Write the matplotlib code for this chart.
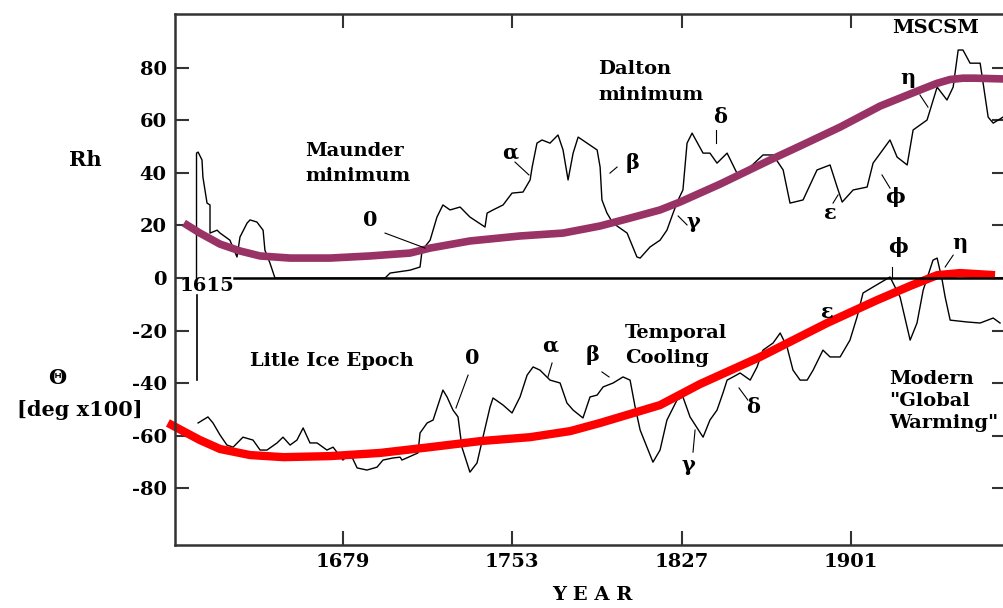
import numpy as np
import matplotlib.pyplot as plt

plt.rcParams['font.family'] = ['DejaVu Serif']
plt.rcParams['font.weight'] = 'bold'
plt.rcParams['axes.unicode_minus'] = False

# Rh (sunspot index) record
rh_years = [1615, 1615, 1615.7, 1617.4, 1617.8, 1619.6, 1620.9, 1620.9, 1624, 1625.3, 1629.6, 1632.7,
            1634, 1637.1, 1638.4, 1641.4, 1644.1, 1644.9, 1647.1, 1649.3, 1697.4, 1699.6, 1708.3,
            1712.7, 1713.6, 1717.1, 1720.1, 1722.7, 1725.8, 1730.2, 1734.5, 1741.1, 1742, 1744.6,
            1749, 1752.9, 1757.7, 1760.8, 1761.7, 1763.8, 1766, 1769.5, 1773, 1775.2, 1777.4,
            1779.6, 1781.8, 1785.7, 1790.1, 1791.4, 1792.2, 1794.4, 1797, 1803.2, 1807.5, 1808.9,
            1813.2, 1817.6, 1820.6, 1823.3, 1825.5, 1827.6, 1829.4, 1831.6, 1836.4, 1839.4, 1842.5,
            1846.9, 1851.2, 1855.6, 1862.6, 1867, 1871.4, 1874.4, 1880.1, 1886.2, 1891.9, 1895,
            1897.2, 1902, 1908.1, 1910.7, 1918.1, 1921.2, 1925.6, 1928.2, 1934.3, 1938.7, 1943,
            1945.7, 1947.9, 1950, 1953.1, 1957.5, 1958.8, 1961, 1963.2, 1967.5]
rh = [0, 47.5, 47.9, 44.9, 38.4, 28.5, 27.8, 17.1, 18.2, 17.1, 14.4, 8.0,
      15.6, 20.9, 22.1, 21.3, 18.2, 10.6, 5.7, 0, 0, 1.9, 3.0,
      4.2, 10.6, 14.4, 23.2, 27.8, 25.9, 27.0, 23.2, 19.4, 24.7, 25.9,
      27.8, 32.3, 32.7, 37.3, 42.2, 51.3, 52.5, 51.3, 54.4, 48.7, 37.3,
      47.5, 53.6, 51.3, 48.7, 42.2, 29.7, 24.7, 20.9, 17.1, 8.0, 7.6,
      11.8, 14.4, 18.2, 24.7, 29.7, 33.5, 51.3, 55.1, 47.5, 47.5, 43.7,
      47.5, 39.9, 41.1, 46.8, 46.8, 41.1, 28.5, 29.7, 41.1, 43.0, 34.6,
      28.9, 33.5, 34.6, 43.7, 52.5, 46.0, 43.0, 56.3, 60.1, 72.6, 67.7,
      72.6, 86.7, 86.7, 81.7, 81.7, 74.1, 61.2, 58.9, 61.2]

# temperature anomaly record [deg x100]
th_years = [1615.7, 1620, 1622.2, 1625.3, 1628.3, 1631, 1635.3, 1639.7, 1642.8, 1645.8, 1650.2,
            1652.8, 1655.9, 1658.9, 1661.6, 1664.6, 1667.7, 1672.0, 1674.7, 1679.0, 1682.1, 1685.2,
            1689.5, 1693.9, 1696.5, 1700.9, 1704, 1704.8, 1711.8, 1712.7, 1715.8, 1718.4, 1722.7,
            1724.5, 1727.1, 1729.3, 1731.0, 1734.5, 1737.6, 1740.2, 1743.3, 1744.6, 1749, 1752.9,
            1756.4, 1759.5, 1762.1, 1765.1, 1769.5, 1773.9, 1776.9, 1779.6, 1783.9, 1787.0, 1790.1,
            1792.7, 1797.1, 1801.4, 1804.5, 1806.7, 1808.9, 1814.5, 1817.6, 1820.6, 1825, 1827.6,
            1830.7, 1836.4, 1839.4, 1842.5, 1845.1, 1846.9, 1849.5, 1852.6, 1857, 1860, 1862.6,
            1867, 1870.1, 1873.1, 1875.7, 1878.8, 1881.9, 1884.5, 1888.8, 1891.9, 1896.3, 1900.6,
            1903.7, 1906.3, 1910.7, 1918.1, 1922.5, 1926.9, 1929.9, 1932.6, 1936.9, 1938.7, 1940.9,
            1942.2, 1944.4, 1951.8, 1957.5, 1963.2, 1966.2]
theta = [-55.1, -52.8, -55.1, -59.7, -63.5, -64.3, -60.5, -61.6, -65.4, -65.4, -62.7,
         -60.5, -63.5, -61.6, -57.0, -62.7, -62.7, -65.4, -64.3, -69.2, -66.5, -72.2,
         -73.0, -71.9, -69.2, -68.4, -68.1, -69.2, -66.5, -58.9, -55.1, -54.0, -42.6,
         -45.2, -50.2, -52.8, -64.3, -73.8, -70.3, -60.5, -49.0, -45.6, -48.3, -51.3,
         -45.2, -36.9, -33.8, -35.0, -38.8, -39.9, -47.5, -50.2, -53.2, -45.2, -44.5,
         -41.4, -39.9, -37.6, -38.8, -49.0, -57.8, -70.0, -65.4, -54.0, -46.4, -45.2,
         -52.8, -60.5, -54.0, -50.2, -43.7, -38.8, -37.6, -36.1, -38.8, -33.8, -27.4,
         -24.7, -20.9, -26.2, -35.0, -38.8, -38.8, -35.0, -27.4, -30.0, -30.0, -23.6,
         -14.8, -5.7, -3.4, 0.4, -7.2, -23.6, -17.1, -4.6, 6.8, 7.6, -0.8,
         -7.2, -16.0, -16.7, -17.1, -15.2, -17.1]

# smoothed trends
rh_trend_years = [1609.5, 1616.5, 1625.3, 1634, 1642.8, 1655.9, 1673.4, 1690.8, 1708.3, 1717.1, 1734.5,
                  1756.4, 1775.2, 1791.4, 1804.5, 1817.6, 1826.3, 1843.8, 1865.7, 1878.8, 1896.3,
                  1913.8, 1931.2, 1938.5, 1944.4, 1950, 1955.3, 1968]
rh_trend = [20.9, 17.1, 12.9, 10.3, 8.4, 7.6, 7.6, 8.4, 9.5, 11.4, 14.1,
            16.0, 17.1, 19.8, 22.8, 25.9, 28.9, 35.7, 44.9, 50.2, 57.4,
            65.4, 71.5, 74.0, 75.5, 76.0, 76.0, 75.7]
th_trend_years = [1602.5, 1610, 1616.5, 1625.3, 1638.4, 1653, 1673.4, 1695.2, 1717.1, 1739, 1760.8,
                  1778.3, 1791.4, 1804.5, 1817.6, 1835.1, 1861.3, 1890.6, 1912.4, 1926.9, 1938.7,
                  1948.7, 1964]
th_trend = [-55.1, -58.6, -61.6, -65.0, -67.3, -68.1, -67.7, -66.5, -64.3, -62.0, -60.5,
            -58.2, -55.1, -51.7, -48.3, -40.3, -30.0, -17.1, -8.4, -3.0, 1.1,
            1.9, 1.1]

year_ticks = [1679, 1753, 1827, 1901]
y_ticks = [80, 60, 40, 20, 0, -20, -40, -60, -80]

# label, x, y, leader start, leader end
greek = [
    ('0', 1690.8, 22.1, (1697.4, 17.1), (1714.9, 11.4)),
    ('α', 1752.0, 47.9, (1754.2, 44.1), (1760.3, 39.2)),
    ('β', 1805.4, 43.7, (1795.7, 39.9), (1798.8, 42.2)),
    ('γ', 1832.0, 21.5, (1825.5, 23.6), (1829.4, 20.2)),
    ('δ', 1843.8, 61.2, (1842.1, 56.3), (1842.1, 51.3)),
    ('ε', 1891.9, 24.7, (1893.2, 28.5), (1895.4, 31.6)),
    ('ϕ', 1920.3, 30.8, (1914.6, 39.2), (1918.1, 34.2)),
    ('η', 1926.0, 76.0, (1931.2, 69.6), (1934.7, 65.0)),
    ('ϕ', 1921.6, 11.8, (1919.0, 4.2), (1919.0, 0.4)),
    ('η', 1948.7, 13.3, (1945.7, 8.7), (1942.2, 4.2)),
    ('ε', 1890.6, -12.9, None, None),
    ('0', 1735.4, -30.4, (1733.7, -36.9), (1728.4, -49.4)),
    ('α', 1769.5, -25.5, (1770.4, -32.3), (1768.6, -37.6)),
    ('β', 1787.9, -29.3, (1792.2, -35.7), (1795.3, -37.6)),
    ('γ', 1829.8, -71.1, (1832.9, -57.8), (1832.0, -66.2)),
    ('δ', 1858.2, -49.0, (1852.1, -41.8), (1856.0, -46.4)),
]

fig = plt.figure(figsize=(10.04, 6.08), dpi=100)
ax = fig.add_axes([175/1004, 63/608, 831/1004, 531/608])

ax.plot(rh_years, rh, color='black', lw=1.0)
ax.plot(th_years, theta, color='black', lw=1.0)
ax.plot(rh_trend_years, rh_trend, color='#993366', lw=5.5, solid_capstyle='butt', solid_joinstyle='round')
ax.plot(th_trend_years, th_trend, color='#ff0000', lw=6, solid_capstyle='butt', solid_joinstyle='round',
        clip_on=False)

ax.axhline(0, xmin=(234-175)/831, color='black', lw=1.8)
ax.plot([1615, 1615], [-6.5, -38.8], color='black', lw=1.2)
ax.text(1607.5, -3.2, '1615', fontsize=14, fontweight='bold', ha='left', va='center')

ax.set_xlim(1605.6, 1968.8)
ax.set_ylim(-101.5, 100.4)
ax.set_xticks(year_ticks)
ax.set_yticks(y_ticks)
ax.tick_params(direction='in', length=10, width=1.5, top=True, right=True,
               labelsize=14, pad=6, color='#333333')
for lab in ax.get_xticklabels() + ax.get_yticklabels():
    lab.set_fontweight('bold')
for s in ax.spines.values():
    s.set_linewidth(1.8)
    s.set_color('#333333')

for lab, x, y, p0, p1 in greek:
    ax.text(x, y, lab, fontsize=15, fontweight='bold', ha='center', va='center')
    if p0 is not None:
        ax.plot([p0[0], p1[0]], [p0[1], p1[1]], color='black', lw=0.8)

tk = dict(fontsize=14, fontweight='bold', ha='left', va='center', linespacing=1.55)
ax.text(1662.4, 43.5, 'Maunder\nminimum', **tk)
ax.text(1790.5, 74.6, 'Dalton\nminimum', **tk)
ax.text(1937.8, 95.1, 'MSCSM', fontsize=14, fontweight='bold', ha='center', va='center')
ax.text(1638.4, -31.6, 'Litle Ice Epoch', **tk)
ax.text(1802.3, -25.7, 'Temporal\nCooling', **tk)
ax.text(1917.7, -46.8, 'Modern\n"Global\nWarming"', linespacing=1.3,
        fontsize=14, fontweight='bold', ha='left', va='center')

fig.text(85/1004, 1-160/608, 'Rh', fontsize=15, fontweight='bold', ha='center', va='center')
fig.text(57/1004, 1-378/608, 'Θ', fontsize=15, fontweight='bold', ha='center', va='center')
fig.text(80/1004, 1-410/608, '[deg x100]', fontsize=15, fontweight='bold', ha='center', va='center')
fig.text(592/1004, 1-595/608, 'Y E A R', fontsize=14, fontweight='bold', ha='center', va='center')

fig.savefig('out.png', dpi=100)
